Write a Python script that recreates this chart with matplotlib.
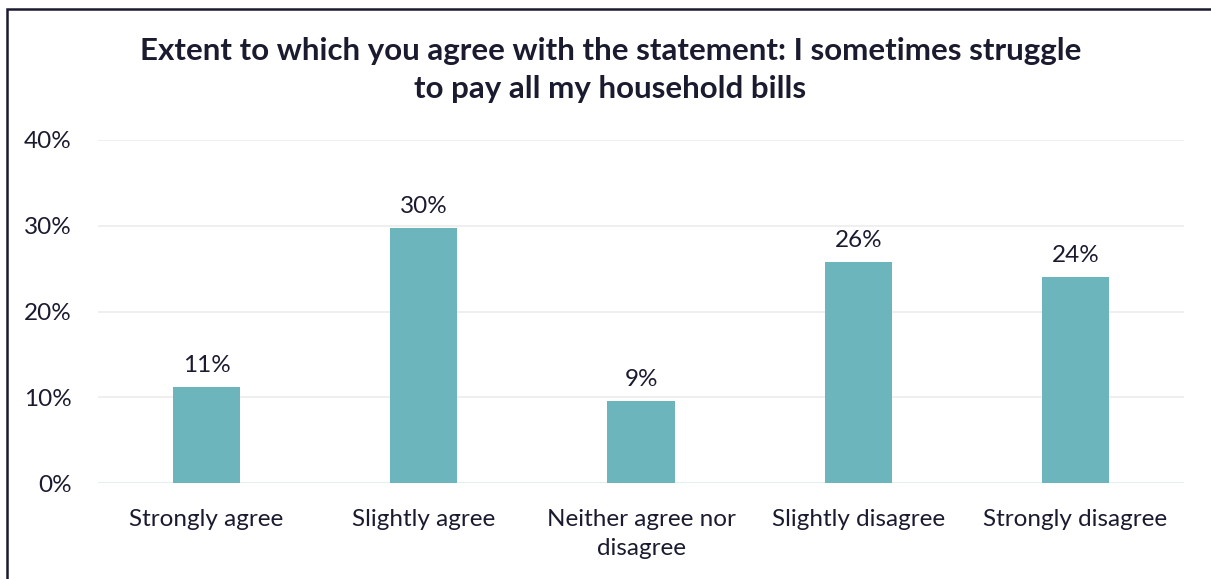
import matplotlib.pyplot as plt
from matplotlib.patches import Rectangle

categories = ['Strongly agree', 'Slightly agree', 'Neither agree nor\ndisagree',
              'Slightly disagree', 'Strongly disagree']
values = [11.2, 29.7, 9.6, 25.8, 24.0]
labels = ['11%', '30%', '9%', '26%', '24%']
yticks = [0, 10, 20, 30, 40]

plt.rcParams['font.family'] = ['Lato', 'DejaVu Sans']
dark = '#1b1b30'
teal = '#6db5bd'

fig = plt.figure(figsize=(12.11, 5.79), dpi=100)
ax = fig.add_axes([98 / 1211, 1 - 483 / 579, 1086 / 1211, 343 / 579])

x = range(len(categories))
ax.bar(x, values, width=0.31, color=teal, zorder=3)
for i, v in enumerate(values):
    ax.text(i, v + 1.3, labels[i], ha='center', va='bottom', fontsize=17.5, color=dark)

ax.set_xlim(-0.5, 4.5)
ax.set_ylim(0, 40)
ax.set_yticks(yticks)
ax.set_yticklabels([f'{t}%' for t in yticks], fontsize=17.5, color=dark)
ax.set_xticks(list(x))
ax.set_xticklabels(categories, fontsize=17.5, color=dark, linespacing=1.45)
ax.tick_params(axis='both', length=0)
ax.tick_params(axis='y', pad=19)
ax.tick_params(axis='x', pad=19)
for s in ax.spines.values():
    s.set_visible(False)
ax.grid(axis='y', color='#ececec', linewidth=1.2, zorder=0)
ax.axhline(0, color='#e3eff1', linewidth=2, zorder=2)

fig.text(0.504, 1 - 70 / 579, 'Extent to which you agree with the statement: I sometimes struggle\nto pay all my household bills',
         ha='center', va='center', fontsize=22.5, fontweight='bold', color=dark, linespacing=1.4)

# frame around the chart
fig.patches.append(Rectangle((7 / 1211, -0.1), 1.2, 1 - 9 / 579 + 0.1, transform=fig.transFigure,
                             fill=False, edgecolor=dark, linewidth=1.8))

fig.savefig('out.png', dpi=100)
